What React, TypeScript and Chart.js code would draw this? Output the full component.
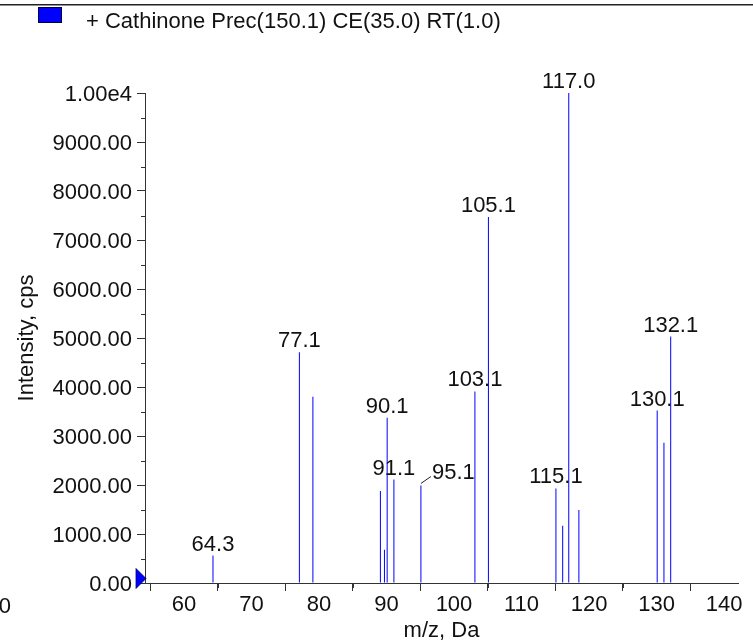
import React, { useEffect, useRef } from 'react';
import { Chart, registerables } from 'chart.js';

Chart.register(...registerables);

const seriesLabel = '+ Cathinone Prec(150.1) CE(35.0) RT(1.0)';
const mzValues = [64.3, 77.1, 79.1, 89.1, 89.7, 90.1, 91.1, 95.1, 103.1, 105.1, 115.1, 116.1, 117.0, 118.5, 130.1, 131.1, 132.1];
const intensities = [560, 4710, 3800, 1880, 680, 3370, 2110, 1990, 3910, 7470, 1930, 1170, 10000, 1490, 3520, 2860, 5030];
const peakLabels = ['64.3', '77.1', '', '', '', '90.1', '91.1', '95.1', '103.1', '105.1', '115.1', '', '117.0', '', '130.1', '', '132.1'];
const xMajorTicks = [60, 70, 80, 90, 100, 110, 120, 130, 140];
const xMinorTicks = [55, 65, 75, 85, 95, 105, 115, 125, 135];
const yMinorTicks = [500, 1500, 2500, 3500, 4500, 5500, 6500, 7500, 8500, 9500];
const xTitle = 'm/z, Da';
const yTitle = 'Intensity, cps';

const FONT = '"Liberation Sans", Arial, sans-serif';
const AXIS = '#333333';
const TEXT = '#111111';

const decorPlugin = {
  id: 'decor',
  afterDraw(chart: any) {
    const { ctx } = chart;
    const xs = chart.scales.x;
    const ys = chart.scales.y;
    ctx.save();
    // top rule
    ctx.fillStyle = '#222222';
    ctx.fillRect(0, 4, chart.width, 1.5);
    // legend box
    ctx.fillStyle = '#0000ff';
    ctx.fillRect(38, 7, 24, 16);
    ctx.strokeStyle = '#000044';
    ctx.lineWidth = 1;
    ctx.strokeRect(38.5, 7.5, 23, 15);
    // legend text
    ctx.fillStyle = TEXT;
    ctx.font = `22px ${FONT}`;
    ctx.textAlign = 'left';
    ctx.textBaseline = 'alphabetic';
    ctx.fillText(chart.data.datasets[0].label, 86, 28);

    // minor ticks
    ctx.strokeStyle = AXIS;
    ctx.lineWidth = 1;
    ctx.beginPath();
    yMinorTicks.forEach((v) => {
      const py = Math.round(ys.getPixelForValue(v)) + 0.5;
      ctx.moveTo(ys.right - 4, py);
      ctx.lineTo(ys.right + 0.5, py);
    });
    xMinorTicks.forEach((v) => {
      const px = Math.round(xs.getPixelForValue(v)) + 0.5;
      ctx.moveTo(px, xs.top);
      ctx.lineTo(px, xs.top + 5);
    });
    ctx.stroke();

    // clipped leftmost label remnant
    ctx.fillStyle = TEXT;
    ctx.font = `22px ${FONT}`;
    ctx.textAlign = 'right';
    ctx.fillText('50', 11, 613);

    // origin marker
    const y0 = ys.getPixelForValue(0) - 4.5;
    const left = xs.left;
    ctx.beginPath();
    ctx.moveTo(left - 9, y0 - 10);
    ctx.lineTo(left - 9, y0 + 10);
    ctx.lineTo(left + 1, y0);
    ctx.closePath();
    ctx.fillStyle = '#0000ff';
    ctx.fill();
    ctx.strokeStyle = '#000066';
    ctx.lineWidth = 0.8;
    ctx.stroke();
    ctx.restore();
  },
  afterDatasetsDraw(chart: any) {
    const { ctx } = chart;
    const meta = chart.getDatasetMeta(0);
    ctx.save();
    ctx.font = `22px ${FONT}`;
    ctx.fillStyle = TEXT;
    ctx.textBaseline = 'alphabetic';
    meta.data.forEach((bar: any, i: number) => {
      const text = peakLabels[i];
      if (!text) return;
      const x = bar.x;
      const y = bar.y;
      if (text === '95.1') {
        ctx.strokeStyle = '#222222';
        ctx.lineWidth = 1;
        ctx.beginPath();
        ctx.moveTo(x, y - 2);
        ctx.lineTo(x + 10, y - 9);
        ctx.stroke();
        ctx.textAlign = 'left';
        ctx.fillText(text, x + 11, y - 6);
      } else {
        ctx.textAlign = 'center';
        ctx.fillText(text, x, y - 5);
      }
    });
    ctx.restore();
  },
};

export default function App() {
  const canvasRef = useRef<HTMLCanvasElement | null>(null);

  useEffect(() => {
    if (!canvasRef.current) return;
    Chart.defaults.font.family = FONT;
    Chart.defaults.font.size = 22;
    Chart.defaults.color = TEXT;
    const chart = new Chart(canvasRef.current, {
      type: 'bar',
      data: {
        datasets: [
          {
            label: seriesLabel,
            data: mzValues.map((mz, i) => ({ x: mz, y: intensities[i] })),
            backgroundColor: '#0000ff',
            borderWidth: 0,
            barThickness: 1,
            inflateAmount: 0,
            grouped: false,
          } as any,
        ],
      },
      options: {
        responsive: false,
        animation: false,
        devicePixelRatio: 1,
        layout: { padding: { left: 0, right: 15, top: 93, bottom: 0 } },
        plugins: {
          legend: { display: false },
          tooltip: { enabled: false },
        },
        scales: {
          x: {
            type: 'linear',
            min: 54.23,
            max: 142.07,
            offset: false,
            afterFit: (scale: any) => {
              scale.height = 58;
            },
            afterBuildTicks: (scale: any) => {
              scale.ticks = xMajorTicks.map((v) => ({ value: v }));
            },
            ticks: {
              includeBounds: false,
              padding: 1,
              font: { size: 22, family: FONT },
              color: TEXT,
              callback: (v: any) => String(v),
              maxRotation: 0,
              autoSkip: false,
            },
            grid: {
              display: true,
              drawOnChartArea: false,
              drawTicks: true,
              tickLength: 8,
              tickColor: AXIS,
            },
            border: { display: true, color: AXIS, width: 1 },
            title: {
              display: true,
              text: xTitle,
              color: TEXT,
              font: { size: 22, family: FONT, lineHeight: 0.9 },
              padding: { top: 0, bottom: 0 },
            },
          },
          y: {
            type: 'linear',
            min: 0,
            max: 10000,
            afterFit: (scale: any) => {
              scale.width = 145;
            },
            ticks: {
              stepSize: 1000,
              padding: 5,
              labelOffset: 2,
              font: { size: 22, family: FONT },
              color: TEXT,
              callback: (v: any) => (Number(v) === 10000 ? '1.00e4' : Number(v).toFixed(2)),
            },
            grid: {
              display: true,
              drawOnChartArea: false,
              drawTicks: true,
              tickLength: 8,
              tickColor: AXIS,
            },
            border: { display: true, color: AXIS, width: 1 },
            title: {
              display: true,
              text: yTitle,
              color: TEXT,
              font: { size: 22, family: FONT, lineHeight: 1.2 },
              padding: { top: 14, bottom: 0 },
            },
          },
        },
      },
      plugins: [decorPlugin],
    });
    return () => chart.destroy();
  }, []);

  return (
    <div style={{ position: 'absolute', left: 0, top: 0, width: 753, height: 641, background: '#ffffff' }}>
      <canvas ref={canvasRef} width={753} height={641} style={{ width: 753, height: 641, display: 'block' }} />
    </div>
  );
}
